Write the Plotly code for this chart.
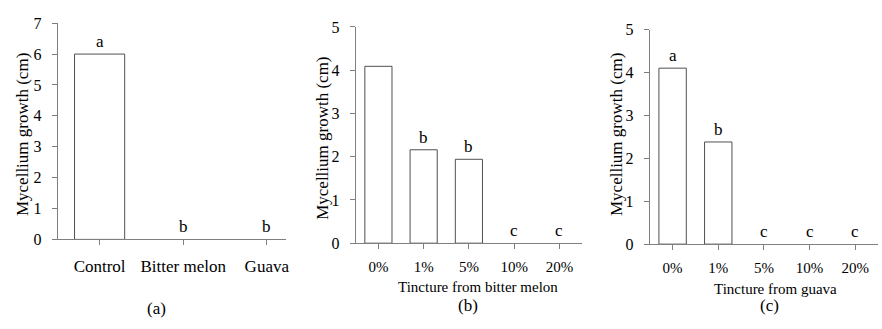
import plotly.graph_objects as go

# ---- data ----
cats_a = ["Control", "Bitter melon", "Guava"]
vals_a = [6.0, 0.0, 0.0]
letters_a = ["a", "b", "b"]

cats_b = ["0%", "1%", "5%", "10%", "20%"]
vals_b = [4.09, 2.16, 1.94, 0.0, 0.0]
letters_b = ["", "b", "b", "c", "c"]

cats_c = ["0%", "1%", "5%", "10%", "20%"]
vals_c = [4.10, 2.38, 0.0, 0.0, 0.0]
letters_c = ["a", "b", "c", "c", "c"]

yticks_a = [0, 1, 2, 3, 4, 5, 6, 7]
yticks_bc = [0, 1, 2, 3, 4, 5]

FONT = "'Liberation Serif', 'Times New Roman', Times, serif"
FS = 16
FT = 15
W, H = 882, 329
AX = "#7f7f7f"

fig = go.Figure()

panels = [
    (cats_a, vals_a, letters_a, "x", "y"),
    (cats_b, vals_b, letters_b, "x2", "y2"),
    (cats_c, vals_c, letters_c, "x3", "y3"),
]
for cats, vals, letters, xa, ya in panels:
    fig.add_trace(go.Bar(
        x=cats, y=vals, xaxis=xa, yaxis=ya, width=0.6,
        marker=dict(color="white",
                    line=dict(color="#505050", width=[1 if v > 0 else 0 for v in vals])),
        showlegend=False, hoverinfo="x+y"))
    for c, v, t in zip(cats, vals, letters):
        if t:
            fig.add_annotation(x=c, y=v, xref=xa, yref=ya, text=t,
                               showarrow=False, yanchor="bottom", yshift=1,
                               font=dict(family=FONT, size=FS + 1, color="black"))

def px(x):
    return x / W

def py(y):
    return 1 - y / H

xcommon = dict(type="category", showline=True, linecolor=AX, linewidth=1,
               ticks="outside", ticklen=5, tickcolor=AX, showgrid=False,
               zeroline=False, tickfont=dict(family=FONT, size=FS, color="black"),
               ticklabelstandoff=5, fixedrange=True)
ycommon = dict(showline=True, linecolor=AX, linewidth=1, ticks="outside",
               ticklen=5, tickcolor=AX, showgrid=False, zeroline=False,
               tickfont=dict(family=FONT, size=FS, color="black"),
               ticklabelstandoff=7, fixedrange=True)

fig.update_layout(
    width=W, height=H, margin=dict(l=0, r=0, t=0, b=0),
    paper_bgcolor="white", plot_bgcolor="white",
    font=dict(family=FONT, size=FS, color="black"),
    bargap=0.4,
    xaxis=dict(xcommon, domain=[px(58), px(287)], range=[-0.5, 2.23], anchor="y",
               tickfont=dict(family=FONT, size=17, color="black"), ticklabelstandoff=6),
    yaxis=dict(ycommon, domain=[py(244), py(16)], range=[0, 7], tickvals=yticks_a, anchor="x"),
    xaxis2=dict(xcommon, domain=[px(357), px(584)], range=[-0.5, 4.5], anchor="y2",
                tickfont=dict(family=FONT, size=FT, color="black")),
    yaxis2=dict(ycommon, domain=[py(248), py(20)], range=[0, 5], tickvals=yticks_bc, anchor="x2"),
    xaxis3=dict(xcommon, domain=[px(652), px(881)], range=[-0.5, 4.5], anchor="y3",
                tickfont=dict(family=FONT, size=FT, color="black")),
    yaxis3=dict(ycommon, domain=[py(249), py(22.7)], range=[0, 5], tickvals=yticks_bc, anchor="x3"),
)

def note(text, x, y, angle=0, size=FS):
    fig.add_annotation(x=px(x), y=py(y), xref="paper", yref="paper", text=text,
                       showarrow=False, textangle=angle, xanchor="center", yanchor="middle",
                       borderpad=0,
                       font=dict(family=FONT, size=size, color="black"))

ytitle = "Mycellium growth (cm)"
note(ytitle, 22, 133, -90, 17)
note(ytitle, 324, 137, -90, 17)
note(ytitle, 618, 133, -90, 17)
note("Tincture from bitter melon", 480, 294, size=FT)
note("Tincture from guava", 778, 296, size=FT)
note("(a)", 157, 317, size=17)
note("(b)", 470, 314, size=17)
note("(c)", 772, 314, size=17)

fig.write_html("out.html")
